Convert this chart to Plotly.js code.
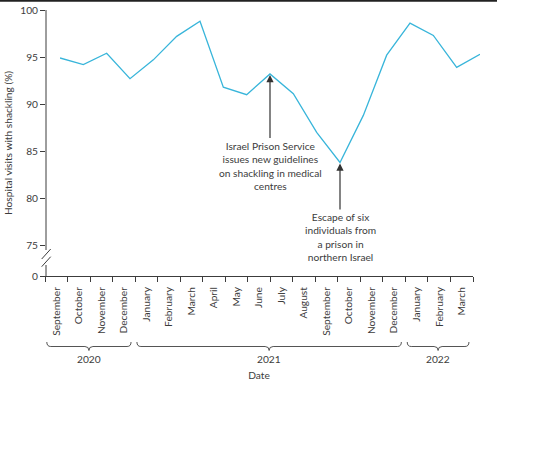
<!DOCTYPE html>
<html>
<head>
<meta charset="utf-8">
<script src="https://cdn.plot.ly/plotly-3.0.1.min.js"></script>
<style>html,body{margin:0;padding:0;background:#fff;}#chart{width:543px;height:457px;}</style>
</head>
<body>
<div id="chart"></div>
<script>
// ---- data ----
var months = ['September','October','November','December','January','February','March','April','May','June','July','August','September','October','November','December','January','February','March'];
var years  = ['2020','2020','2020','2020','2021','2021','2021','2021','2021','2021','2021','2021','2021','2021','2021','2021','2022','2022','2022'];
var shackling = [94.9,94.2,95.4,92.7,94.7,97.2,98.8,91.8,91.0,93.2,91.1,87.0,83.8,88.8,95.2,98.6,97.3,93.9,95.3];
var yTickVals = [75,80,85,90,95,100];
var yTickText = ['75','80','85','90','95','100'];
var zeroLabel = '0';
var events = [
  {index: 9,  text: 'Israel Prison Service<br>issues new guidelines<br>on shackling in medical<br>centres', ay: 64},
  {index: 12, text: 'Escape of six<br>individuals from<br>a prison in<br>northern Israel', ay: 47}
];

// ---- layout helpers ----
var W = 543, H = 457;
var mL = 45, mR = 60, mT = 10, mB = 181;
var plotW = W - mL - mR, plotH = H - mT - mB;
function px(x){ return (x - mL) / plotW; }
function py(y){ return (H - mB - y) / plotH; }
var yMin = 71.73; // position of the "0" tick below the axis break
var mainDomEnd = px(473);
function catToPaper(i){ return (i + 0.5) / months.length * mainDomEnd; }

var textColor = '#3c3c3c';
var font = {family: 'Lato, "Liberation Sans", sans-serif', size: 10.2, color: textColor};

var idx = months.map(function(_, i){ return i; });
var bounds = [];
for (var b = 0; b <= months.length; b++) bounds.push(b - 0.5);

var trace = {
  x: idx, y: shackling, xaxis: 'x2', yaxis: 'y',
  type: 'scatter', mode: 'lines',
  line: {color: '#38b5da', width: 1.3},
  hoverinfo: 'skip'
};
// carrier trace for the month axis (no visible marks)
var axisTrace = {
  x: idx, y: idx.map(function(){ return null; }), xaxis: 'x', yaxis: 'y',
  type: 'scatter', mode: 'lines', hoverinfo: 'skip', showlegend: false
};

// year groups
var groups = [];
years.forEach(function(yr, i){
  if (!groups.length || groups[groups.length-1].year !== yr) groups.push({year: yr, first: i, last: i});
  else groups[groups.length-1].last = i;
});

var shapes = [];
var annotations = [];
var yTop = py(342), yMid = py(346.5), yBot = py(350.5);
groups.forEach(function(g){
  var xa = catToPaper(g.first - 0.42), xb = catToPaper(g.last + 0.32);
  var xc = (xa + xb) / 2;
  var d = 4 / plotW;
  var p = 'M' + xa + ',' + yTop +
          ' Q' + xa + ',' + yMid + ' ' + (xa + d) + ',' + yMid +
          ' L' + (xc - d) + ',' + yMid +
          ' Q' + xc + ',' + yMid + ' ' + xc + ',' + yBot +
          ' Q' + xc + ',' + yMid + ' ' + (xc + d) + ',' + yMid +
          ' L' + (xb - d) + ',' + yMid +
          ' Q' + xb + ',' + yMid + ' ' + xb + ',' + yTop;
  shapes.push({type: 'path', xref: 'paper', yref: 'paper', path: p, line: {color: '#555', width: 1}});
  annotations.push({xref: 'paper', yref: 'paper', x: xc, y: py(359), text: g.year, showarrow: false, font: font, xanchor: 'center', yanchor: 'middle'});
});

// y axis line with break
var axX = px(46);
shapes.push({type: 'line', xref: 'paper', yref: 'paper', x0: axX, x1: axX, y0: py(250), y1: 1, line: {color: textColor, width: 1}});
shapes.push({type: 'line', xref: 'paper', yref: 'paper', x0: axX, x1: axX, y0: 0, y1: py(265), line: {color: textColor, width: 1}});
shapes.push({type: 'line', xref: 'paper', yref: 'paper', x0: px(41.7), x1: px(50.7), y0: py(259), y1: py(249), line: {color: textColor, width: 1}});
shapes.push({type: 'line', xref: 'paper', yref: 'paper', x0: px(41.7), x1: px(50.7), y0: py(266.7), y1: py(256.7), line: {color: textColor, width: 1}});
// top border
shapes.push({type: 'line', xref: 'paper', yref: 'paper', x0: px(0), x1: px(497), y0: py(0.8), y1: py(0.8), line: {color: '#222', width: 1.8}});

events.forEach(function(e){
  annotations.push({
    xref: 'x2', yref: 'y', x: e.index, y: shackling[e.index],
    ax: 0, ay: e.ay, text: e.text, showarrow: true,
    arrowhead: 2, arrowsize: 1.2, arrowwidth: 1.2, arrowcolor: '#333', standoff: 1,
    yanchor: 'top', xanchor: 'center', align: 'center', font: font
  });
});

var layout = {
  width: W, height: H,
  margin: {l: mL, r: mR, t: mT, b: mB},
  paper_bgcolor: '#fff', plot_bgcolor: 'rgba(0,0,0,0)',
  showlegend: false,
  font: font,
  xaxis: {
    domain: [0, mainDomEnd], range: [-0.5, months.length - 0.5],
    tickmode: 'array', tickvals: idx, ticktext: months, tickangle: -90,
    ticks: 'outside', ticklen: 6, tickcolor: 'rgba(0,0,0,0)',
    minor: {tickmode: 'array', tickvals: bounds, ticks: 'outside', ticklen: 5, tickcolor: textColor, tickwidth: 1},
    showline: true, linecolor: textColor, linewidth: 1,
    showgrid: false, zeroline: false, fixedrange: true,
    tickfont: font,
    title: {text: 'Date', font: font, standoff: 37},
    anchor: 'y'
  },
  xaxis2: {
    domain: [px(60), px(480)], range: [0, months.length - 1],
    visible: false, anchor: 'y', fixedrange: true
  },
  yaxis: {
    domain: [0, 1], range: [yMin, 100],
    tickmode: 'array', tickvals: [yMin].concat(yTickVals), ticktext: [zeroLabel].concat(yTickText),
    ticks: 'outside', ticklen: 5, tickcolor: textColor, tickwidth: 1,
    showline: false, showgrid: false, zeroline: false, fixedrange: true,
    tickfont: font,
    title: {text: 'Hospital visits with shackling (%)', font: font, standoff: 4},
    anchor: 'free', position: 0
  },
  shapes: shapes,
  annotations: annotations
};

Plotly.newPlot('chart', [axisTrace, trace], layout, {displayModeBar: false, staticPlot: true});
</script>
</body>
</html>
